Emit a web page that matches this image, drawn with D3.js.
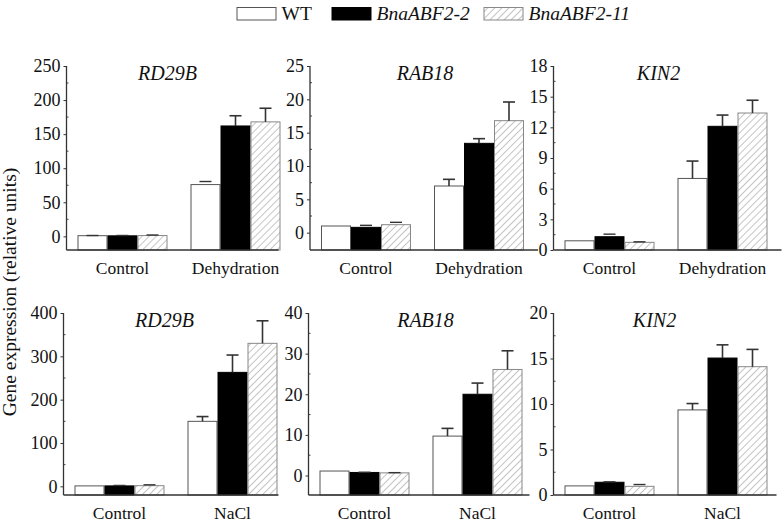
<!DOCTYPE html>
<html>
<head>
<meta charset="utf-8">
<script src="https://cdn.jsdelivr.net/npm/d3@7"></script>
<style>
  html, body { margin: 0; padding: 0; background: #fff; }
  svg { display: block; }
</style>
</head>
<body>
<svg id="chart" width="784" height="526"></svg>
<script>
// ---------------- DATA ----------------
const series = ["WT", "BnaABF2-2", "BnaABF2-11"];
const genes = ["RD29B", "RAB18", "KIN2"];
const catsTop = ["Control", "Dehydration"];
const catsBottom = ["Control", "NaCl"];

// Dehydration row: means [Control, Dehydration] per series
const rd29bDehyMean = [[1.0, 76], [0.8, 162], [1.2, 168]];
const rd29bDehyErr  = [[0.3, 4.5], [0.5, 15], [0.8, 20]];
const rab18DehyMean = [[1.0, 7.0], [0.8, 13.4], [1.2, 16.8]];
const rab18DehyErr  = [[0.0, 1.0], [0.3, 0.7], [0.35, 2.8]];
const kin2DehyMean  = [[0.9, 7.0], [1.3, 12.1], [0.75, 13.4]];
const kin2DehyErr   = [[0.0, 1.7], [0.25, 1.1], [0.05, 1.25]];

// NaCl row
const rd29bNaclMean = [[1.0, 150], [1.0, 263], [1.5, 330]];
const rd29bNaclErr  = [[0.0, 11], [1.0, 40], [2.0, 52]];
const rab18NaclMean = [[1.1, 9.7], [0.75, 20.0], [0.65, 26.1]];
const rab18NaclErr  = [[0.0, 1.9], [0.05, 2.75], [0.05, 4.6]];
const kin2NaclMean  = [[1.0, 9.35], [1.4, 15.05], [0.95, 14.1]];
const kin2NaclErr   = [[0.0, 0.7], [0.05, 1.45], [0.2, 1.9]];

// Axis domains and tick labels
const yDomains = [[-20, 250], [-2.6, 25], [0, 18], [-20, 400], [-4.8, 40], [0, 20]];
const yTicks = [
  [0, 50, 100, 150, 200, 250],
  [0, 5, 10, 15, 20, 25],
  [0, 3, 6, 9, 12, 15, 18],
  [0, 100, 200, 300, 400],
  [0, 10, 20, 30, 40],
  [0, 5, 10, 15, 20]
];
const yLabel = "Gene expression (relative units)";

// ---------------- LAYOUT ----------------
const FONT = '"Liberation Serif"';
const svg = d3.select("#chart");
const defs = svg.append("defs");
const pat = defs.append("pattern")
  .attr("id", "hatch").attr("patternUnits", "userSpaceOnUse")
  .attr("width", 5).attr("height", 5)
  .attr("patternTransform", "rotate(45)");
pat.append("rect").attr("width", 5).attr("height", 5).attr("fill", "#fff");
pat.append("line").attr("x1", 0).attr("y1", 0).attr("x2", 0).attr("y2", 5)
  .attr("stroke", "#8a8a8a").attr("stroke-width", 1);

const fills = ["#fff", "#000", "url(#hatch)"];
const strokes = ["#555", "#000", "#888"];

function txt(sel, size, italic) {
  return sel.style("font-family", FONT).style("font-size", size + "px")
    .style("font-style", italic ? "italic" : "normal").style("fill", "#111");
}

const panels = [
  {gene: 0, cats: catsTop, mean: rd29bDehyMean, err: rd29bDehyErr, x: 66.5, w: 212, top: 66, bottom: 250, tx: 101},
  {gene: 1, cats: catsTop, mean: rab18DehyMean, err: rab18DehyErr, x: 310, w: 228, top: 66, bottom: 250, tx: 115},
  {gene: 2, cats: catsTop, mean: kin2DehyMean, err: kin2DehyErr, x: 553.5, w: 228, top: 66, bottom: 250, tx: 105},
  {gene: 0, cats: catsBottom, mean: rd29bNaclMean, err: rd29bNaclErr, x: 63.5, w: 215, top: 313, bottom: 495, tx: 101},
  {gene: 1, cats: catsBottom, mean: rab18NaclMean, err: rab18NaclErr, x: 308.5, w: 221, top: 313, bottom: 495, tx: 117},
  {gene: 2, cats: catsBottom, mean: kin2NaclMean, err: kin2NaclErr, x: 553.5, w: 223, top: 313, bottom: 495, tx: 101}
];

panels.forEach((p, i) => {
  const g = svg.append("g").attr("transform", `translate(${p.x},0)`);
  const y = d3.scaleLinear().domain(yDomains[i]).range([p.bottom, p.top]);
  const x0 = d3.scaleBand().domain(p.cats).range([11, 214]).paddingInner(23 / 113).paddingOuter(0);
  const x1 = d3.scaleBand().domain(series).range([0, x0.bandwidth()]);

  // bars
  series.forEach((s, si) => {
    p.cats.forEach((c, ci) => {
      const v = p.mean[si][ci];
      const e = p.err[si][ci];
      const bx = x0(c) + x1(s);
      g.append("rect")
        .attr("x", bx + 0.5).attr("y", y(v))
        .attr("width", x1.bandwidth() - 1).attr("height", p.bottom - y(v))
        .attr("fill", fills[si]).attr("stroke", strokes[si]).attr("stroke-width", 1);
      const cx = bx + x1.bandwidth() / 2;
      if (e > 0.02 * (yDomains[i][1])) {
        g.append("line").attr("x1", cx).attr("x2", cx).attr("y1", y(v)).attr("y2", y(v + e))
          .attr("stroke", "#333").attr("stroke-width", 1.6);
        g.append("line").attr("x1", cx - 6).attr("x2", cx + 6).attr("y1", y(v + e)).attr("y2", y(v + e))
          .attr("stroke", "#333").attr("stroke-width", 1.6);
      } else if (e > 0) {
        g.append("line").attr("x1", cx - 6).attr("x2", cx + 6).attr("y1", y(v + e)).attr("y2", y(v + e))
          .attr("stroke", "#333").attr("stroke-width", 1.4);
      }
    });
  });

  // y axis
  const yAxis = d3.axisLeft(y).tickValues(yTicks[i]).tickSize(3).tickPadding(3).tickFormat(d3.format("d"));
  const ya = g.append("g").call(yAxis);
  ya.attr("font-family", null).attr("font-size", null);
  ya.select(".domain").remove();
  ya.selectAll("line").attr("stroke", "#333");
  txt(ya.selectAll("text"), 18, false);
  // minor ticks
  const tv = yTicks[i];
  const step = tv[1] - tv[0];
  const minors = tv.map(t => t + step / 2).filter(t => t < yDomains[i][1]);
  g.selectAll(".minor").data(minors).enter().append("line")
    .attr("x1", 0).attr("x2", 2).attr("y1", d => y(d)).attr("y2", d => y(d))
    .attr("stroke", "#444").attr("stroke-width", 1);
  g.append("line").attr("x1", 0).attr("x2", 0).attr("y1", p.top).attr("y2", p.bottom)
    .attr("stroke", "#333").attr("stroke-width", 1.3);
  // x axis line
  g.append("line").attr("x1", 0).attr("x2", p.w).attr("y1", p.bottom).attr("y2", p.bottom)
    .attr("stroke", "#333").attr("stroke-width", 1.3);

  // category labels
  p.cats.forEach(c => {
    txt(g.append("text").attr("x", x0(c) + x0.bandwidth() / 2).attr("y", p.bottom + 24)
      .attr("text-anchor", "middle"), 17.5, false).text(c);
  });

  // gene title
  txt(g.append("text").attr("x", p.tx).attr("y", p.top + 13.5)
    .attr("text-anchor", "middle"), 20, true).text(genes[p.gene]);
});

// y label
txt(svg.append("text")
  .attr("transform", "translate(16,292) rotate(-90)")
  .attr("text-anchor", "middle"), 19.5, false).text(yLabel);

// legend
const legX = [236.5, 331.5, 483.5];
series.forEach((s, si) => {
  svg.append("rect").attr("x", legX[si] + 0.5).attr("y", 7.5).attr("width", 39).attr("height", 12.5)
    .attr("fill", fills[si]).attr("stroke", strokes[si]).attr("stroke-width", 1);
  txt(svg.append("text").attr("x", legX[si] + 45).attr("y", 19.5), 19.5, si !== 0).text(s);
});
</script>
</body>
</html>
